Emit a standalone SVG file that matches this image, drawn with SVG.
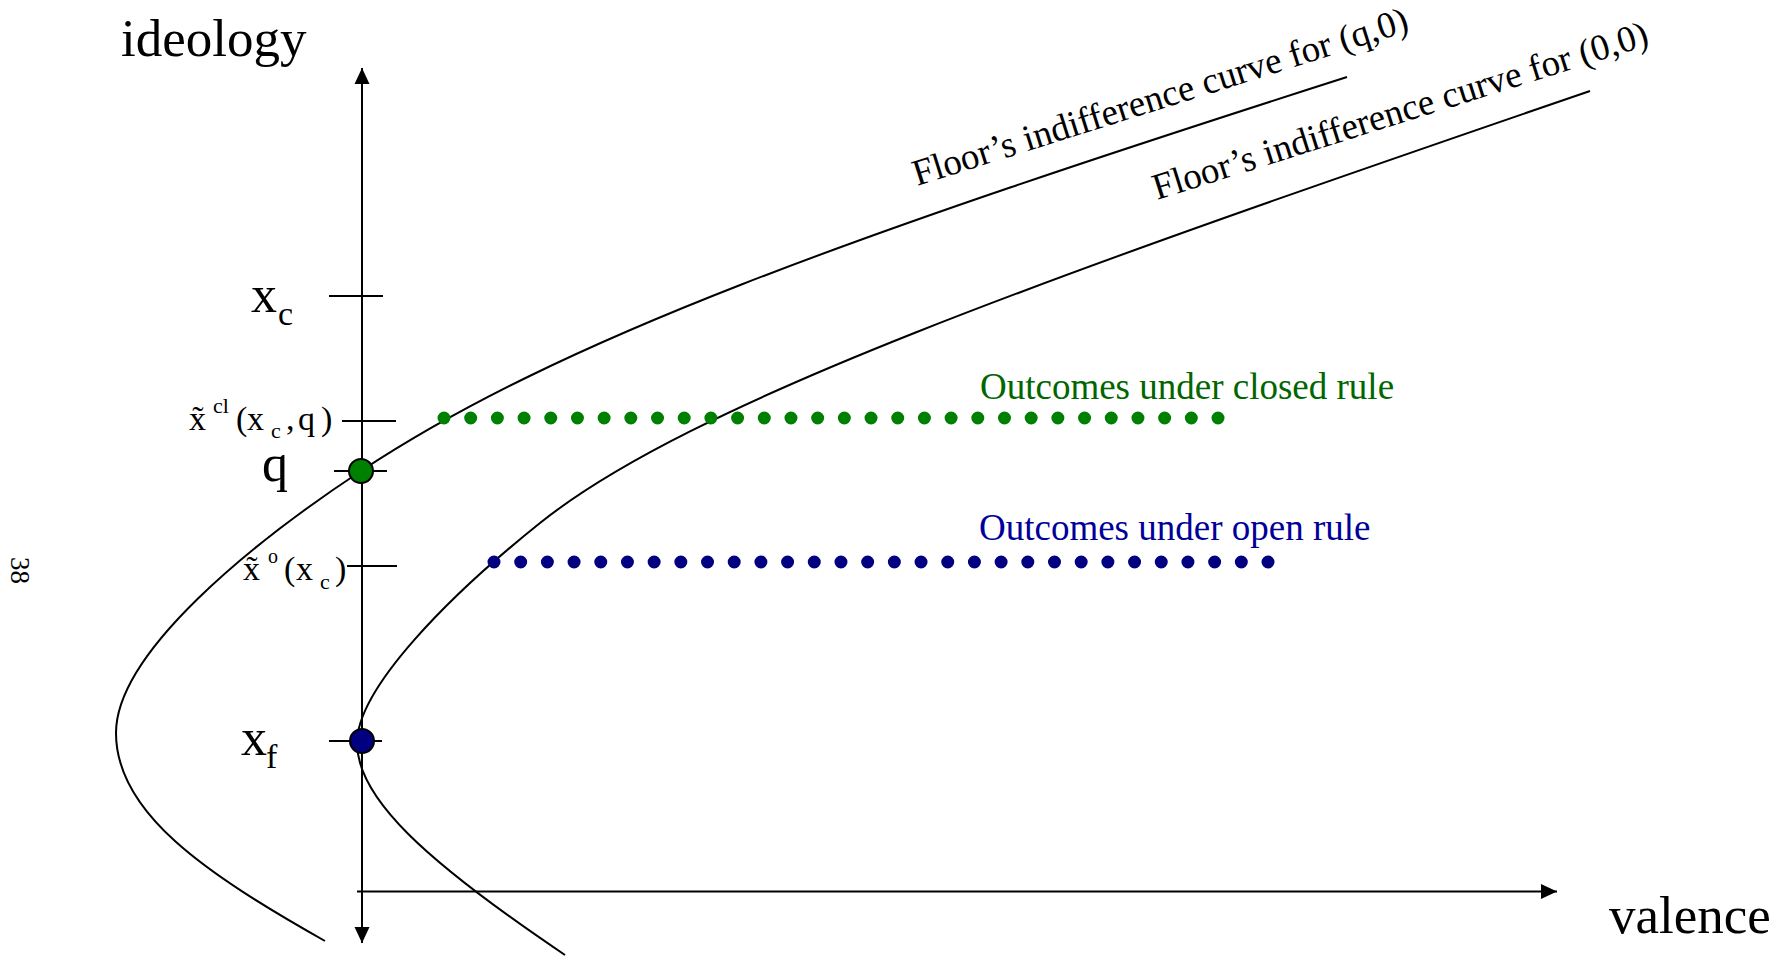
<svg xmlns="http://www.w3.org/2000/svg" width="1783" height="956" viewBox="0 0 1783 956">
<style>
text{font-family:"Liberation Serif","Times New Roman",serif;fill:#000}
.ln{stroke:#000;stroke-width:2;fill:none}
.crv{stroke:#000;stroke-width:2;fill:none;stroke-linejoin:round}
.gdots{stroke:#008000;stroke-width:13;stroke-linecap:round;stroke-dasharray:0 26.69;fill:none}
.bdots{stroke:#000080;stroke-width:13;stroke-linecap:round;stroke-dasharray:0 26.69;fill:none}
.gt{fill:#006600}
.bt{fill:#000099}
</style>
<defs>
<marker id="arr" viewBox="0 0 16 16" refX="16" refY="8" markerWidth="16" markerHeight="16" markerUnits="userSpaceOnUse" orient="auto-start-reverse">
<path d="M0,0.5 L16,8 L0,15.5 z" fill="#000"/>
</marker>
</defs>
<rect width="1783" height="956" fill="#fff"/>

<g id="connectors">
<line id="y-axis" class="ln" x1="362" y1="943" x2="362" y2="68" marker-start="url(#arr)" marker-end="url(#arr)"/>
<line id="x-axis" class="ln" x1="357" y1="891.5" x2="1557" y2="891.5" marker-end="url(#arr)"/>
<path id="curve-q0" class="crv" d="M325,941 C205,873.2 116,813 116,733 C116,653 251,543.6 361,471 C561,339 847,237 1347,77"/>
<path id="curve-00" class="crv" d="M565,955 C425,860.6 357,798 357,743 C357,688 450,595 540,523 C690,403 1040,279.7 1590,91"/>
</g>

<g id="ticks">
<line class="ln" x1="329" y1="296" x2="383" y2="296"/>
<line class="ln" x1="342" y1="421" x2="396" y2="421"/>
<line class="ln" x1="334" y1="471" x2="387" y2="471"/>
<line class="ln" x1="347" y1="566" x2="397" y2="566"/>
<line class="ln" x1="329" y1="741" x2="382" y2="741"/>
</g>

<g id="closed-outcomes">
<line class="gdots" x1="444" y1="418" x2="1219" y2="418"/>
<text class="gt" x="980" y="399" font-size="37">Outcomes under closed rule</text>
</g>
<g id="open-outcomes">
<line class="bdots" x1="494" y1="562" x2="1269" y2="562"/>
<text class="bt" x="979" y="540" font-size="37">Outcomes under open rule</text>
</g>

<g id="point-q">
<circle cx="361" cy="471" r="12" fill="#008000" stroke="#000" stroke-width="2"/>
</g>
<g id="point-xf">
<circle cx="362" cy="741" r="12" fill="#000080" stroke="#000" stroke-width="2"/>
</g>

<g id="axis-labels">
<text x="121" y="56" font-size="53">ideology</text>
<text x="1609" y="933" font-size="53">valence</text>
</g>

<g id="curve-labels">
<text transform="translate(917,186) rotate(-17.5)" font-size="37">Floor’s indifference curve for (q,0)</text>
<text transform="translate(1157,200) rotate(-17.5)" font-size="37">Floor’s indifference curve for (0,0)</text>
</g>

<g id="tick-labels">
<text font-size="52"><tspan x="251" y="312">x</tspan><tspan x="278" y="325" font-size="34">c</tspan></text>
<text font-size="34"><tspan x="189" y="430">x&#x303;</tspan><tspan x="213" y="413" font-size="22">cl</tspan><tspan x="236" y="430">(</tspan><tspan x="247" y="430">x</tspan><tspan x="271" y="438" font-size="22">c</tspan><tspan x="286" y="430">,</tspan><tspan x="298" y="430">q</tspan><tspan x="321" y="430">)</tspan></text>
<text x="262" y="481" font-size="52">q</text>
<text font-size="34"><tspan x="243" y="580">x&#x303;</tspan><tspan x="268" y="563" font-size="20">o</tspan><tspan x="284" y="580">(</tspan><tspan x="296" y="580">x</tspan><tspan x="320" y="589" font-size="22">c</tspan><tspan x="335" y="580">)</tspan></text>
<text font-size="52"><tspan x="241" y="755">x</tspan><tspan x="266" y="768" font-size="34">f</tspan></text>
</g>

<text id="page-number" transform="translate(11,557) rotate(90)" font-size="27">38</text>
</svg>
